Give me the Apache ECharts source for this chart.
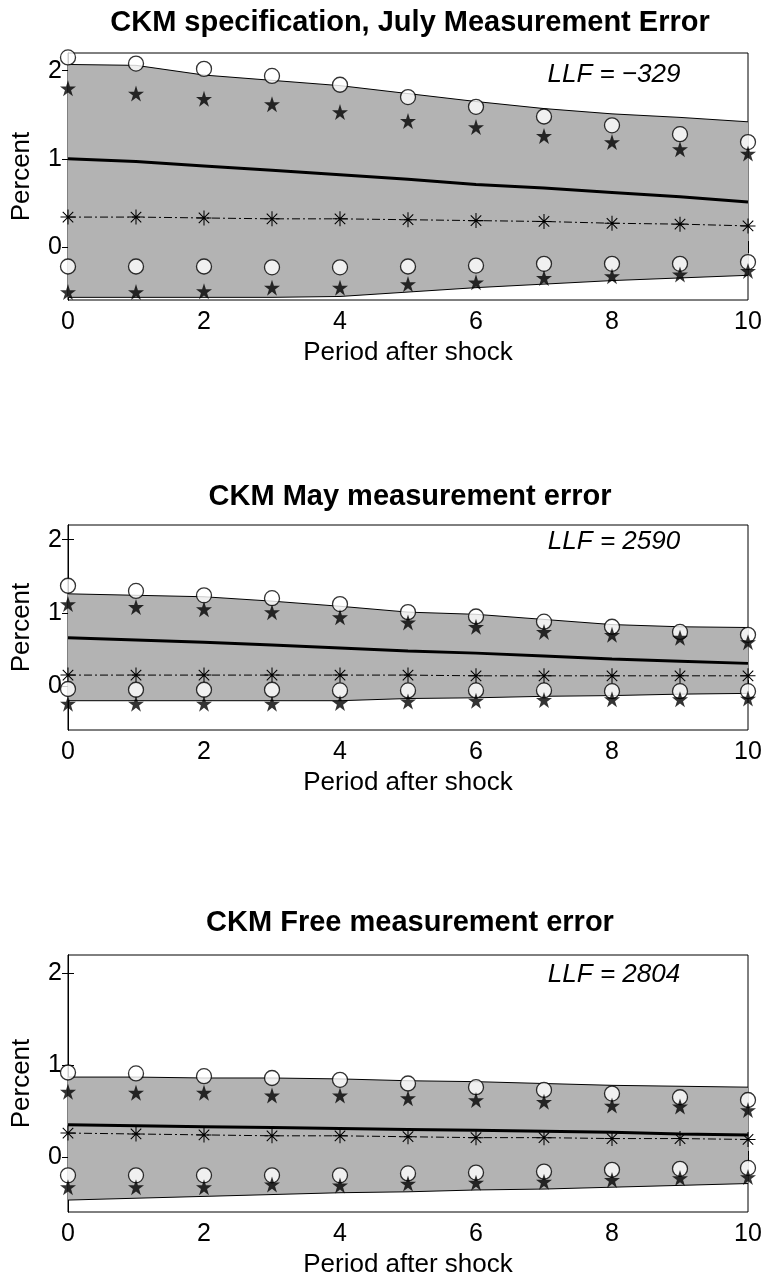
<!DOCTYPE html>
<html>
<head>
<meta charset="utf-8">
<title>CKM measurement error</title>
<script src="https://cdn.jsdelivr.net/npm/echarts@6/dist/echarts.min.js"></script>
<style>
  html, body { margin: 0; padding: 0; background: #fff; }
  #chart { width: 765px; height: 1282px; }
</style>
</head>
<body>
<div id="chart"></div>
<script>
// periods after the shock
const periods = [0, 1, 2, 3, 4, 5, 6, 7, 8, 9, 10];
const yTicks = [0, 1, 2];

const titles = [
  "CKM specification, July Measurement Error",
  "CKM May measurement error",
  "CKM Free measurement error"
];
const llfLabels = ["LLF = \u2212329", "LLF = 2590", "LLF = 2804"];

// panel 1: July measurement error
const julyBandHi = [2.07, 2.06, 1.95, 1.89, 1.83, 1.74, 1.65, 1.57, 1.51, 1.47, 1.42];
const julyBandLo = [-0.57, -0.57, -0.57, -0.57, -0.56, -0.51, -0.46, -0.42, -0.38, -0.35, -0.32];
const julyMean = [1.00, 0.97, 0.92, 0.87, 0.82, 0.77, 0.71, 0.67, 0.62, 0.57, 0.51];
const julyAst = [0.34, 0.34, 0.33, 0.32, 0.32, 0.31, 0.30, 0.29, 0.27, 0.26, 0.24];
const julyCircHi = [2.15, 2.08, 2.02, 1.94, 1.84, 1.70, 1.59, 1.48, 1.38, 1.28, 1.19];
const julyStarHi = [1.80, 1.74, 1.68, 1.62, 1.53, 1.43, 1.36, 1.26, 1.19, 1.11, 1.06];
const julyCircLo = [-0.22, -0.22, -0.22, -0.23, -0.23, -0.22, -0.21, -0.19, -0.19, -0.19, -0.17];
const julyStarLo = [-0.51, -0.51, -0.50, -0.46, -0.46, -0.42, -0.40, -0.35, -0.33, -0.31, -0.27];

// panel 2: May measurement error
const mayBandHi = [1.26, 1.24, 1.22, 1.16, 1.09, 1.01, 0.98, 0.91, 0.84, 0.81, 0.80];
const mayBandLo = [-0.20, -0.20, -0.20, -0.20, -0.20, -0.17, -0.16, -0.14, -0.13, -0.11, -0.10];
const mayMean = [0.66, 0.63, 0.60, 0.56, 0.52, 0.48, 0.45, 0.41, 0.37, 0.34, 0.31];
const mayAst = [0.15, 0.15, 0.15, 0.15, 0.15, 0.15, 0.14, 0.14, 0.14, 0.14, 0.14];
const mayCircHi = [1.37, 1.30, 1.24, 1.20, 1.12, 1.01, 0.95, 0.88, 0.81, 0.74, 0.70];
const mayStarHi = [1.12, 1.08, 1.05, 1.01, 0.94, 0.87, 0.81, 0.74, 0.70, 0.66, 0.60];
const mayCircLo = [-0.04, -0.05, -0.05, -0.05, -0.06, -0.06, -0.06, -0.06, -0.07, -0.07, -0.07];
const mayStarLo = [-0.24, -0.24, -0.24, -0.24, -0.23, -0.21, -0.20, -0.19, -0.18, -0.18, -0.17];

// panel 3: free measurement error
const freeBandHi = [0.87, 0.87, 0.86, 0.86, 0.85, 0.83, 0.82, 0.80, 0.78, 0.77, 0.76];
const freeBandLo = [-0.47, -0.45, -0.43, -0.41, -0.39, -0.38, -0.36, -0.35, -0.33, -0.31, -0.29];
const freeMean = [0.35, 0.34, 0.33, 0.32, 0.31, 0.30, 0.29, 0.28, 0.27, 0.25, 0.24];
const freeAst = [0.26, 0.25, 0.24, 0.23, 0.23, 0.22, 0.21, 0.21, 0.20, 0.20, 0.19];
const freeCircHi = [0.92, 0.91, 0.88, 0.86, 0.84, 0.80, 0.76, 0.73, 0.69, 0.65, 0.62];
const freeStarHi = [0.71, 0.70, 0.70, 0.67, 0.67, 0.64, 0.62, 0.60, 0.56, 0.55, 0.51];
const freeCircLo = [-0.20, -0.20, -0.20, -0.20, -0.20, -0.18, -0.17, -0.16, -0.14, -0.13, -0.12];
const freeStarLo = [-0.33, -0.33, -0.33, -0.30, -0.31, -0.29, -0.28, -0.27, -0.25, -0.23, -0.22];

const panels = [
  { hi: julyBandHi, lo: julyBandLo, mean: julyMean, ast: julyAst, cHi: julyCircHi, sHi: julyStarHi, cLo: julyCircLo, sLo: julyStarLo },
  { hi: mayBandHi, lo: mayBandLo, mean: mayMean, ast: mayAst, cHi: mayCircHi, sHi: mayStarHi, cLo: mayCircLo, sLo: mayStarLo },
  { hi: freeBandHi, lo: freeBandLo, mean: freeMean, ast: freeAst, cHi: freeCircHi, sHi: freeStarHi, cLo: freeCircLo, sLo: freeStarLo }
];

// layout of the three boxes
const boxes = [
  { top: 53, height: 247, titleY: 23, llfY: 75 },
  { top: 525, height: 205, titleY: 497, llfY: 542 },
  { top: 955, height: 257, titleY: 923, llfY: 975 }
];
const boxLeft = 68, boxWidth = 680;

const FONT = "'Liberation Sans', Arial, Helvetica, sans-serif";
const GRAY = "#b3b3b3";

const starPath = "path://M0,-10 L2.25,-3.09 L9.51,-3.09 L3.63,1.18 L5.88,8.09 L0,3.82 L-5.88,8.09 L-3.63,1.18 L-9.51,-3.09 L-2.25,-3.09 Z";
const astPath = "path://M-0.7,-10 L0.7,-10 L0.7,10 L-0.7,10 Z M-10,-0.7 L10,-0.7 L10,0.7 L-10,0.7 Z " +
  "M-7.5,-6.5 L-6.5,-7.5 L7.5,6.5 L6.5,7.5 Z M-7.5,6.5 L6.5,-7.5 L7.5,-6.5 L-6.5,7.5 Z";

function pts(arr) {
  return periods.map((p, i) => [p, arr[i]]);
}

// gray band between lo and hi, drawn once as a polygon
function bandRenderer(hi, lo) {
  return function (params, api) {
    if (params.dataIndex !== 0) return;
    const top = periods.map((x, i) => api.coord([x, hi[i]]));
    const bottom = periods.map((x, i) => api.coord([x, lo[i]])).reverse();
    return {
      type: "polygon",
      shape: { points: top.concat(bottom) },
      style: { fill: GRAY, stroke: null }
    };
  };
}

const grid = [], xAxis = [], yAxis = [], series = [], graphic = [];
const tickStyle = { show: true, inside: true, length: 6, lineStyle: { color: "#000", width: 1 } };

boxes.forEach((b, k) => {
  grid.push({ left: boxLeft, top: b.top, width: boxWidth, height: b.height,
    show: true, borderColor: "#000", borderWidth: 1, backgroundColor: "transparent" });

  // bottom and left axes with labels
  xAxis.push({ type: "value", gridIndex: k, min: 0, max: 10, interval: 2,
    axisLine: { show: true, lineStyle: { color: "#000" } },
    axisTick: tickStyle, splitLine: { show: false },
    axisLabel: { color: "#000", fontSize: 25, fontFamily: FONT, margin: 10 },
    name: "Period after shock", nameLocation: "middle", nameGap: 40,
    nameTextStyle: { color: "#000", fontSize: 26, fontFamily: FONT } });
  yAxis.push({ type: "value", gridIndex: k, min: -0.6, max: 2.2,
    axisLine: { show: true, lineStyle: { color: "#000" } },
    axisTick: Object.assign({}, tickStyle, { customValues: yTicks }),
    splitLine: { show: false },
    axisLabel: { color: "#000", fontSize: 25, fontFamily: FONT, margin: 6, customValues: yTicks },
    name: "Percent", nameLocation: "middle", nameGap: 33, nameRotate: 90,
    nameTextStyle: { color: "#000", fontSize: 26, fontFamily: FONT } });
});
// mirrored ticks on top and right, titles and LLF notes
boxes.forEach((b, k) => {
  xAxis.push({ type: "value", gridIndex: k, position: "top", min: 0, max: 10, interval: 2,
    axisLine: { show: true, lineStyle: { color: "#000" } }, axisTick: tickStyle,
    axisLabel: { show: false }, splitLine: { show: false } });
  yAxis.push({ type: "value", gridIndex: k, position: "right", min: -0.6, max: 2.2,
    axisLine: { show: true, lineStyle: { color: "#000" } },
    axisTick: Object.assign({}, tickStyle, { customValues: yTicks }),
    axisLabel: { show: false, customValues: yTicks }, splitLine: { show: false } });

  graphic.push({ type: "text", x: boxLeft + boxWidth / 2 + 2, y: b.titleY,
    style: { text: titles[k], font: "bold 29px " + FONT, fill: "#000", align: "center", verticalAlign: "middle" } });
  graphic.push({ type: "text", x: 614, y: b.llfY,
    style: { text: llfLabels[k], font: "italic 26px " + FONT, fill: "#000", align: "center", verticalAlign: "middle" } });
});

panels.forEach((p, k) => {
  const ax = { xAxisIndex: k, yAxisIndex: k };
  series.push(Object.assign({ type: "custom", renderItem: bandRenderer(p.hi, p.lo),
    data: periods.map((x, i) => [x, p.lo[i], p.hi[i]]), encode: { x: 0, y: [1, 2] },
    silent: true, z: 1 }, ax));
  // band edges
  [p.hi, p.lo].forEach(arr => {
    series.push(Object.assign({ type: "line", data: pts(arr), symbol: "none", clip: false,
      lineStyle: { color: "#000", width: 1 }, z: 2 }, ax));
  });
  // thick mean response
  series.push(Object.assign({ type: "line", data: pts(p.mean), symbol: "none", clip: false,
    lineStyle: { color: "#000", width: 3 }, z: 3 }, ax));
  // asterisk line
  series.push(Object.assign({ type: "line", data: pts(p.ast), symbol: astPath, symbolSize: 15, clip: false,
    itemStyle: { color: "#000" }, lineStyle: { color: "#000", width: 1, type: [8, 3, 2, 3] }, z: 4 }, ax));
  // circles and stars
  [p.cHi, p.cLo].forEach(arr => {
    series.push(Object.assign({ type: "scatter", data: pts(arr), symbol: "circle", symbolSize: 15, clip: false,
      itemStyle: { color: "#fff", borderColor: "#000", borderWidth: 1.3 }, z: 5 }, ax));
  });
  [p.sHi, p.sLo].forEach(arr => {
    series.push(Object.assign({ type: "scatter", data: pts(arr), symbol: starPath, symbolSize: 16, clip: false,
      itemStyle: { color: "#000" }, z: 6 }, ax));
  });
});

const chart = echarts.init(document.getElementById("chart"), null, { renderer: "canvas" });
chart.setOption({
  backgroundColor: "#fff",
  animation: false,
  grid: grid,
  xAxis: xAxis,
  yAxis: yAxis,
  series: series,
  graphic: graphic
});
</script>
</body>
</html>
